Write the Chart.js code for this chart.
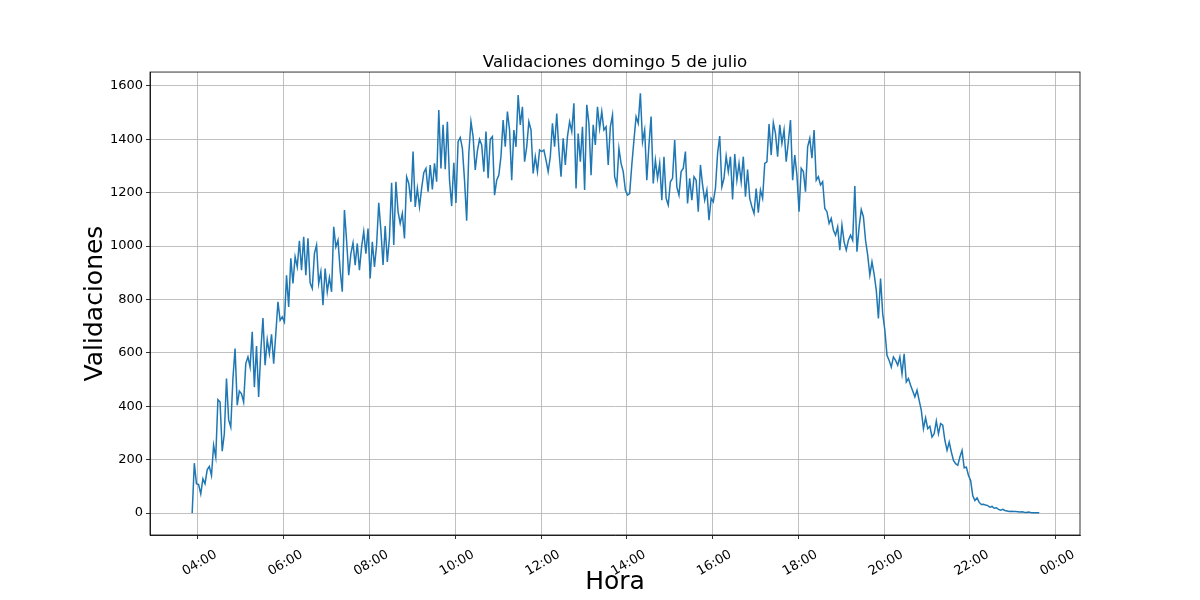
<!DOCTYPE html>
<html>
<head>
<meta charset="utf-8">
<script src="https://cdn.jsdelivr.net/npm/chart.js@4"></script>
<style>
  html, body { margin: 0; padding: 0; background: #fff; }
</style>
</head>
<body>
<canvas id="grafico" width="1200" height="600"></canvas>
<script>
// minutos desde medianoche del primer registro, y paso entre registros
const inicioMin = 232; // 03:52
const pasoMin = 3;

// validaciones cada 3 minutos (una fila por hora)
const validaciones = [
  0, 187, 110, 107,
  72, 129, 110, 162, 175, 141, 254, 210, 425, 416, 232, 297, 504, 350, 322, 504, 616, 404, 457, 447,
  416, 560, 585, 547, 679, 472, 626, 435, 607, 731, 554, 650, 597, 670, 560, 672, 791, 722, 735, 716,
  891, 772, 954, 860, 960, 922, 1020, 910, 1035, 891, 1029, 862, 841, 972, 1004, 860, 904, 779, 916, 829,
  882, 829, 1072, 997, 1022, 910, 829, 1135, 1022, 891, 972, 1012, 929, 1010, 910, 997, 1054, 972, 1066, 879,
  1016, 922, 1004, 1162, 1060, 929, 1075, 941, 1032, 1237, 1004, 1241, 1129, 1085, 1122, 1029, 1260, 1235, 1166, 1354,
  1147, 1216, 1147, 1216, 1275, 1291, 1204, 1304, 1212, 1310, 1241, 1510, 1291, 1454, 1288, 1466, 1247, 1150, 1312, 1162,
  1391, 1407, 1366, 1247, 1095, 1347, 1466, 1410, 1285, 1357, 1400, 1379, 1279, 1429, 1254, 1400, 1410, 1191, 1247, 1266,
  1337, 1472, 1372, 1504, 1435, 1247, 1435, 1372, 1566, 1454, 1522, 1316, 1372, 1466, 1435, 1272, 1335, 1279, 1360, 1354,
  1360, 1322, 1279, 1335, 1460, 1372, 1497, 1360, 1260, 1404, 1304, 1410, 1466, 1429, 1535, 1216, 1422, 1316, 1447, 1210,
  1529, 1460, 1266, 1454, 1379, 1522, 1441, 1504, 1435, 1447, 1304, 1447, 1491, 1260, 1229, 1366, 1310, 1279, 1210, 1191,
  1197, 1304, 1397, 1485, 1460, 1572, 1391, 1435, 1247, 1379, 1485, 1235, 1322, 1254, 1310, 1172, 1335, 1179, 1154, 1241,
  1254, 1397, 1222, 1191, 1279, 1291, 1354, 1160, 1254, 1172, 1260, 1247, 1129, 1304, 1229, 1172, 1210, 1097, 1179, 1166,
  1216, 1347, 1412, 1222, 1254, 1337, 1279, 1335, 1175, 1345, 1247, 1310, 1241, 1335, 1185, 1287, 1179, 1147, 1122, 1216,
  1125, 1210, 1179, 1310, 1316, 1457, 1341, 1462, 1422, 1335, 1454, 1385, 1435, 1316, 1391, 1472, 1247, 1341, 1266, 1129,
  1291, 1279, 1204, 1372, 1404, 1329, 1435, 1247, 1260, 1229, 1241, 1141, 1129, 1085, 1104, 1060, 1041, 1072, 985, 1079,
  1016, 985, 1022, 1041, 1022, 1225, 979, 1072, 1137, 1110, 1022, 966, 891, 941, 895, 835, 729, 879, 747, 685,
  591, 572, 547, 585, 572, 554, 585, 522, 597, 491, 504, 479, 457, 435, 460, 422, 385, 316, 357, 316,
  325, 285, 297, 345, 297, 335, 329, 272, 235, 266, 229, 197, 185, 179, 210, 235, 170, 172, 141, 122,
  65, 47, 57, 40, 32, 33, 30, 28, 22, 25, 18, 20, 14, 11, 14, 10, 8, 6, 7, 6,
  6, 5, 4, 5, 3, 2, 4, 2, 1, 1, 1, 1
];

// marcas de los ejes
const ticksHora = [240, 360, 480, 600, 720, 840, 960, 1080, 1200, 1320, 1440];
const ticksValidaciones = [0, 200, 400, 600, 800, 1000, 1200, 1400, 1600];

function formatoHora(min) {
  const h = Math.floor(min / 60) % 24;
  const m = min % 60;
  return String(h).padStart(2, '0') + ':' + String(m).padStart(2, '0');
}

const puntos = validaciones.map((v, i) => ({ x: inicioMin + i * pasoMin, y: v }));

Chart.defaults.font.family = '"DejaVu Sans", sans-serif';
Chart.defaults.color = '#000';

// marco completo alrededor del area de datos (estilo matplotlib)
const marco = {
  id: 'marco',
  afterDraw(chart) {
    const { ctx, chartArea: a } = chart;
    ctx.save();
    ctx.strokeStyle = '#000';
    ctx.lineWidth = 0.8;
    ctx.strokeRect(a.left, a.top, a.right - a.left, a.bottom - a.top);
    ctx.restore();
  }
};

const grid = { color: '#b0b0b0', lineWidth: 0.8, tickColor: '#000', tickLength: 4 };

new Chart(document.getElementById('grafico'), {
  type: 'line',
  data: {
    datasets: [{
      data: puntos,
      borderColor: '#1f77b4',
      borderWidth: 1.5,
      pointRadius: 0,
      tension: 0,
      fill: false
    }]
  },
  options: {
    responsive: false,
    animation: false,
    layout: { padding: { right: 120 } },
    plugins: {
      legend: { display: false },
      tooltip: { enabled: false },
      title: {
        display: true,
        text: 'Validaciones domingo 5 de julio',
        fullSize: false,
        font: { size: 16.7, weight: 'normal' },
        padding: { top: 53, bottom: -1 }
      }
    },
    scales: {
      x: {
        type: 'linear',
        min: 173,
        max: 1474,
        afterBuildTicks: s => { s.ticks = ticksHora.map(v => ({ value: v })); },
        afterFit: s => { s.height = 65; },
        grid: grid,
        border: { color: '#000', width: 0.8 },
        ticks: {
          autoSkip: false,
          minRotation: 30,
          maxRotation: 30,
          labelOffset: 18,
          padding: 8,
          font: { size: 13 },
          callback: v => formatoHora(v)
        },
        title: {
          display: true,
          text: 'Hora',
          font: { size: 25 },
          padding: { top: 0, bottom: 3 }
        }
      },
      y: {
        type: 'linear',
        min: -82,
        max: 1652,
        afterBuildTicks: s => { s.ticks = ticksValidaciones.map(v => ({ value: v })); },
        afterFit: s => { s.width = 150; },
        grid: grid,
        border: { color: '#000', width: 0.8 },
        ticks: { padding: 3, font: { size: 13 }, callback: v => String(v) },
        title: {
          display: true,
          text: 'Validaciones',
          font: { size: 25 },
          padding: { top: 80, bottom: 0 }
        }
      }
    }
  },
  plugins: [marco]
});
</script>
</body>
</html>
